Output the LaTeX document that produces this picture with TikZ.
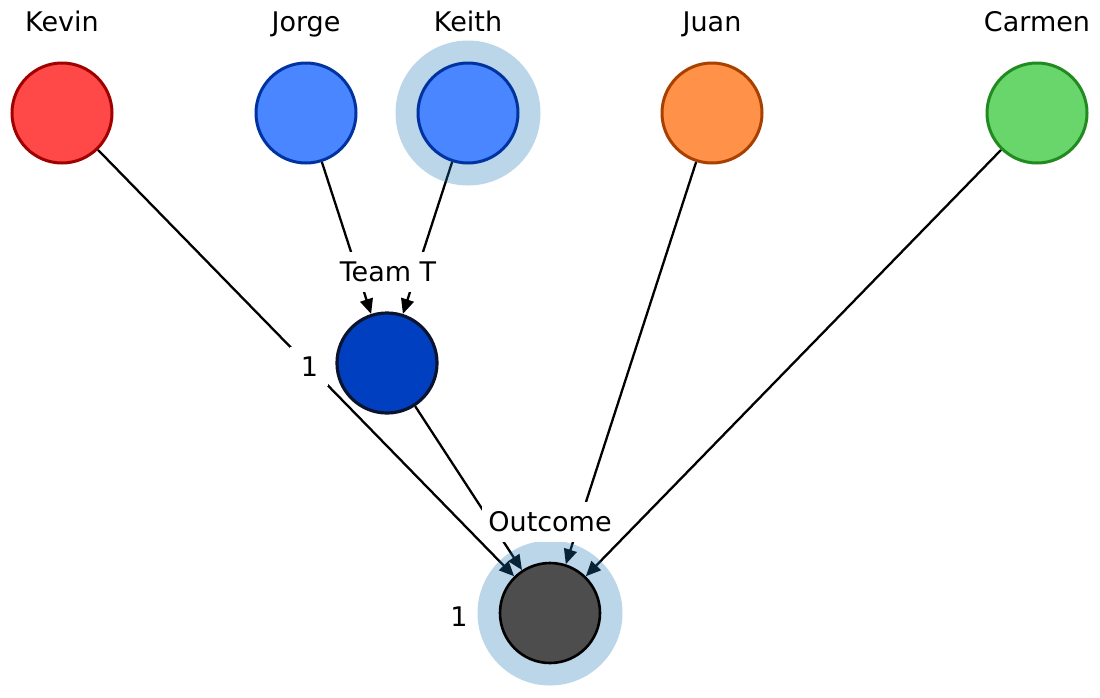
\documentclass[tikz,border=0pt]{standalone}
\usepackage{fontspec}
\setmainfont{DejaVu Sans}
\usetikzlibrary{arrows.meta}
\definecolor{tabblue}{HTML}{1F77B4}
\definecolor{kevinfill}{HTML}{FF4848}
\definecolor{kevindraw}{HTML}{A00000}
\definecolor{bluefill}{HTML}{4A86FF}
\definecolor{bluedraw}{HTML}{0033A0}
\definecolor{juanfill}{HTML}{FF9248}
\definecolor{juandraw}{HTML}{A84000}
\definecolor{carmenfill}{HTML}{69D66B}
\definecolor{carmendraw}{HTML}{218A21}
\definecolor{teamfill}{HTML}{0040C0}
\definecolor{teamdraw}{HTML}{0A1430}
\definecolor{outfill}{HTML}{4D4D4D}
\pgfdeclarelayer{edges}
\pgfdeclarelayer{halos}
\pgfsetlayers{edges,halos,main}
\begin{document}
\begin{tikzpicture}[x=1pt,y=-1pt,
  person/.style={circle, minimum size=100pt, inner sep=0pt, line width=3pt},
  txt/.style={font=\fontsize{27}{32}\selectfont, inner sep=5pt},
  lbl/.style={txt, fill=white, inner xsep=6pt, inner ysep=10pt},
  personlbl/.style={txt, anchor=base},
  conn/.style={line width=2.3pt, -{Triangle[length=15pt,width=13pt]}},
  halo/.style={fill=tabblue, fill opacity=0.3, draw=none}
]
\useasboundingbox (0,0) rectangle (1100,697);

% people
\node[person, fill=kevinfill, draw=kevindraw] (kevin) at (62,113) {};
\node[person, fill=bluefill, draw=bluedraw] (jorge) at (306,113) {};
\node[person, fill=bluefill, draw=bluedraw] (keith) at (468,113) {};
\node[person, fill=juanfill, draw=juandraw] (juan) at (712,113) {};
\node[person, fill=carmenfill, draw=carmendraw] (carmen) at (1037,113) {};
\node[person, fill=teamfill, draw=teamdraw, line width=3.2pt] (team) at (387,363) {};
\node[person, fill=outfill, draw=black, line width=2.6pt] (outcome) at (550,613) {};

% names
\node[personlbl] (kevinlbl) at (62,31.5) {Kevin};
\node[personlbl] (jorgelbl) at (306,31.5) {Jorge};
\node[personlbl] (keithlbl) at (468,31.5) {Keith};
\node[personlbl] (juanlbl) at (712,31.5) {Juan};
\node[personlbl] (carmenlbl) at (1037,31.5) {Carmen};
\node[lbl] (teamlbl) at (388,272) {Team T};
\node[lbl] (outlbl) at (550,522) {Outcome};
\node[txt] (outone) at (459,617) {1};

% edges
\begin{pgfonlayer}{edges}
\draw[conn] (kevin) -- (outcome);
\draw[conn] (jorge) -- (team);
\draw[conn] (keith) -- (team);
\draw[conn] (team) -- (outcome);
\draw[conn] (juan) -- (outcome);
\draw[conn] (carmen) -- (outcome);
\end{pgfonlayer}
\path (kevin) -- (outcome) node[lbl, pos=0.508, minimum width=38pt, minimum height=38pt] (kevinone) {1};

% halos
\begin{pgfonlayer}{halos}
\fill[halo] (keith) circle (72.5pt);
\fill[halo] (outcome) circle (72.5pt);
\end{pgfonlayer}
\end{tikzpicture}
\end{document}
